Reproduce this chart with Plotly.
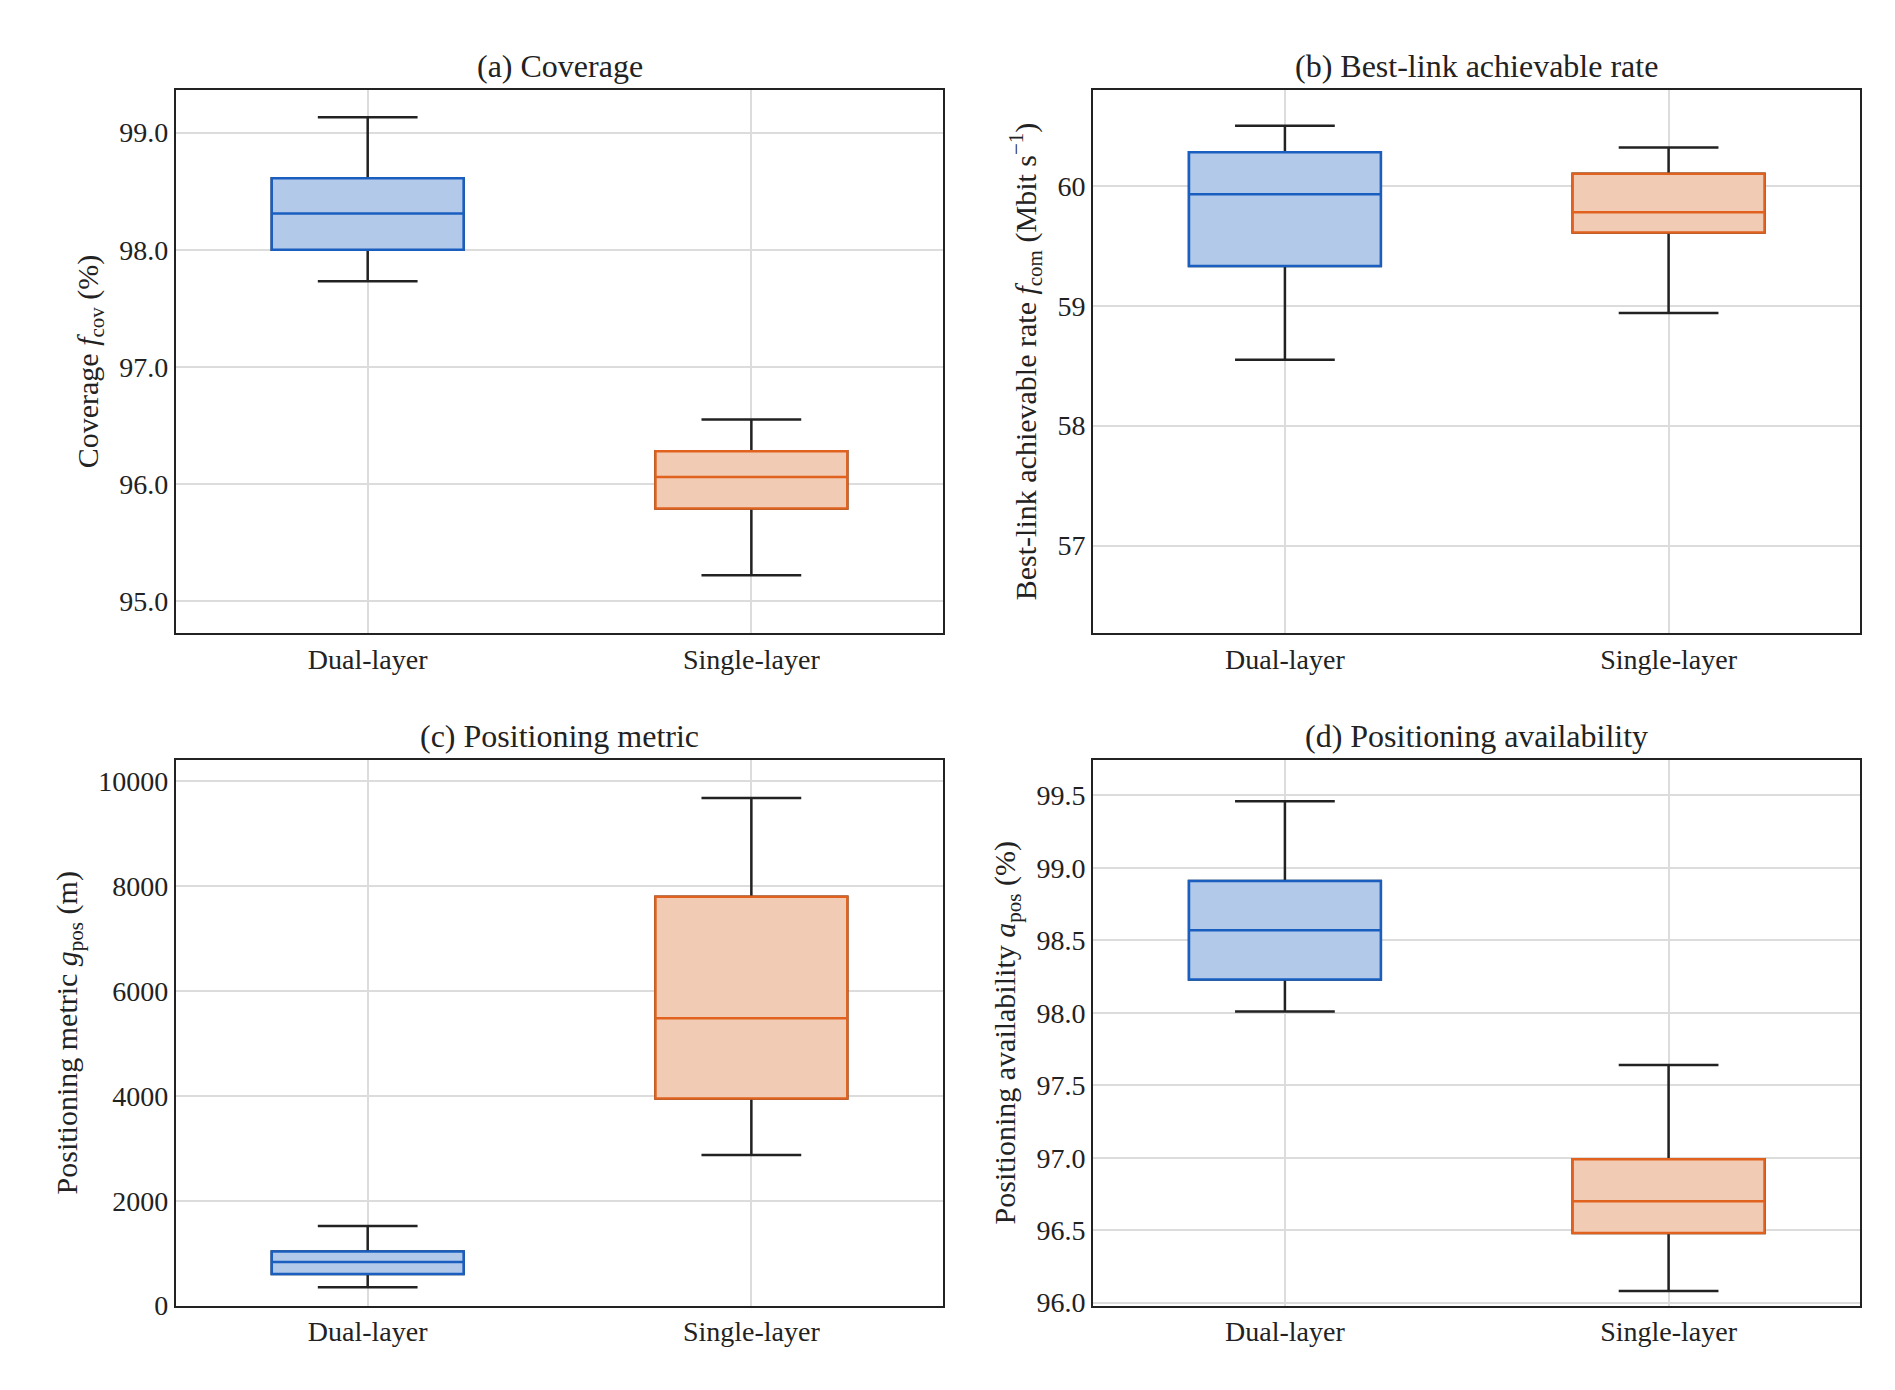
import plotly.graph_objects as go

cats = ["Dual-layer", "Single-layer"]
# [lowerfence, q1, median, q3, upperfence] per category
cov = [[97.73, 98.0, 98.31, 98.61, 99.13], [95.22, 95.79, 96.06, 96.28, 96.55]]
rate = [[58.55, 59.33, 59.93, 60.28, 60.50], [58.94, 59.61, 59.78, 60.10, 60.32]]
posm = [[350, 600, 830, 1030, 1520], [2870, 3950, 5480, 7800, 9680]]
avail = [[98.01, 98.23, 98.57, 98.91, 99.46], [96.08, 96.48, 96.70, 96.99, 97.64]]

titles = ["(a) Coverage", "(b) Best-link achievable rate", "(c) Positioning metric", "(d) Positioning availability"]
ylabels = ["Coverage <i>f</i><sub>cov</sub> (%)",
           "Best-link achievable rate <i>f</i><sub>com</sub> (Mbit s<sup>−1</sup>)",
           "Positioning metric <i>g</i><sub>pos</sub> (m)",
           "Positioning availability <i>a</i><sub>pos</sub> (%)"]
yranges = [[94.727, 99.365], [56.27, 60.80], [0, 10407], [95.98, 99.745]]
ytickvals = [[95, 96, 97, 98, 99], [57, 58, 59, 60], [0, 2000, 4000, 6000, 8000, 10000],
             [96, 96.5, 97, 97.5, 98, 98.5, 99, 99.5]]
yfmt = [".1f", "d", "d", ".1f"]
data = [cov, rate, posm, avail]

W, H = 1568, 1150
xd = [[140 / W, 780 / W], [905 / W, 1545 / W]]
yd = [[1 - 527 / H, 1 - 69 / H], [1 - 1094 / H, 1 - 634 / H]]
lines = ["#1a5fc0", "#e0621e"]
fills = ["#b3c9e9", "#f2cbb4"]
FONT = "Liberation Serif"

fig = go.Figure()
for i in range(4):
    r, c = divmod(i, 2)
    ax = "" if i == 0 else str(i + 1)
    for j, cat in enumerate(cats):
        lo, q1, md, q3, hi = data[i][j]
        fig.add_trace(go.Box(x=[cat], lowerfence=[lo], q1=[q1], median=[md], q3=[q3], upperfence=[hi],
                             xaxis="x" + ax, yaxis="y" + ax, width=0.5, whiskerwidth=0.52,
                             line=dict(color="#222222", width=2.5), fillcolor="rgba(0,0,0,0)",
                             showlegend=False, hoverinfo="skip"))
        fig.add_trace(go.Box(x=[cat], lowerfence=[q1], q1=[q1], median=[md], q3=[q3], upperfence=[q3],
                             xaxis="x" + ax, yaxis="y" + ax, width=0.5, whiskerwidth=0,
                             line=dict(color=lines[j], width=2.5), fillcolor=fills[j],
                             showlegend=False, hoverinfo="skip"))
    common = dict(showline=True, linecolor="#222222", linewidth=2, mirror=True, ticks="",
                  showgrid=True, gridcolor="#dcdcdc", gridwidth=1.5, zeroline=False,
                  tickfont=dict(family=FONT, size=28, color="#222222"))
    fig.layout["xaxis" + ax] = dict(domain=xd[c], anchor="y" + ax, range=[-0.5, 1.5],
                                    categoryorder="array", categoryarray=cats, **common)
    fig.layout["yaxis" + ax] = dict(domain=yd[r], anchor="x" + ax, range=yranges[i],
                                    tickvals=ytickvals[i], tickformat=yfmt[i],
                                    title=dict(text=ylabels[i], font=dict(family=FONT, size=30, color="#222222"),
                                               standoff=12), **common)
    fig.add_annotation(text=titles[i], xref="paper", yref="paper", x=sum(xd[c]) / 2, y=yd[r][1],
                       xanchor="center", yanchor="bottom", yshift=4, showarrow=False,
                       font=dict(family=FONT, size=32, color="#222222"))

fig.update_layout(width=1880, height=1380, margin=dict(l=0, r=0, t=0, b=0),
                  plot_bgcolor="white", paper_bgcolor="white", boxmode="overlay")
fig.write_html("out.html")
